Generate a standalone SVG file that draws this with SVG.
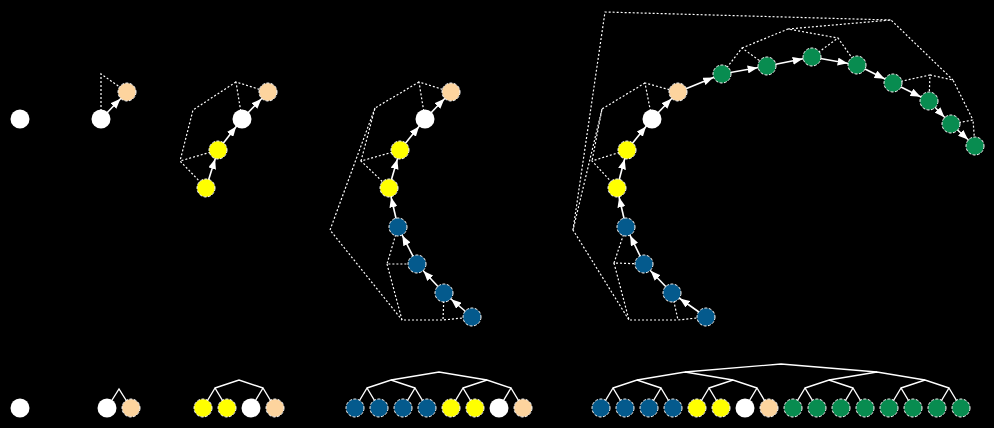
<svg xmlns="http://www.w3.org/2000/svg" width="994" height="428" viewBox="0 0 994 428">
<style>
.bg{fill:#000}
.n{stroke:#fff;stroke-width:1;stroke-dasharray:3,1.5}
.w{fill:#fff;stroke:none}
.pe{fill:#fdd49e}
.ye{fill:#ffff00}
.bl{fill:#045a8d}
.gr{fill:#088c50}
.ch{stroke:#fff;stroke-width:1.6;fill:none;marker-end:url(#ah)}
.dt{stroke:#fff;stroke-width:1.2;stroke-dasharray:2,2;fill:none}
.tr{stroke:#fff;stroke-width:1.4;fill:none}
</style>
<defs>
<marker id="ah" viewBox="0 0 10 8" refX="19.5" refY="4" markerWidth="10" markerHeight="8" markerUnits="userSpaceOnUse" orient="auto"><path d="M0,0 L10,4 L0,8 z" fill="#fff"/></marker>
</defs>
<rect class="bg" x="0" y="0" width="994" height="428"/>
<g id="connectors">
<polyline class="dt" points="101,119 101,74 127,92"/>
<line class="ch" x1="101" y1="119" x2="127" y2="92"/>
<polyline class="dt" points="242,119 236,82 268,92"/>
<polyline class="dt" points="218,150 180,161 206,188"/>
<polyline class="dt" points="236,82 193,110 180,161"/>
<line class="ch" x1="206" y1="188" x2="218" y2="150"/>
<line class="ch" x1="218" y1="150" x2="242" y2="119"/>
<line class="ch" x1="242" y1="119" x2="268" y2="92"/>
<polyline class="dt" points="425,119 419,82 451,92"/>
<polyline class="dt" points="400,150 361,161 389,188"/>
<polyline class="dt" points="419,82 375,108 361,161"/>
<polyline class="dt" points="398,227 387,264 417,264"/>
<polyline class="dt" points="444,293 443,320 472,317"/>
<polyline class="dt" points="387,264 402,320 443,320"/>
<polyline class="dt" points="375,108 330,230 402,320"/>
<line class="ch" x1="472" y1="317" x2="444" y2="293"/>
<line class="ch" x1="444" y1="293" x2="417" y2="264"/>
<line class="ch" x1="417" y1="264" x2="398" y2="227"/>
<line class="ch" x1="398" y1="227" x2="389" y2="188"/>
<line class="ch" x1="389" y1="188" x2="400" y2="150"/>
<line class="ch" x1="400" y1="150" x2="425" y2="119"/>
<line class="ch" x1="425" y1="119" x2="451" y2="92"/>
<polyline class="dt" points="652,119 645,83 678,92"/>
<polyline class="dt" points="627,150 592,161 617,188"/>
<polyline class="dt" points="645,83 602,109 592,161"/>
<polyline class="dt" points="626,227 614,263 644,264"/>
<polyline class="dt" points="672,293 678,320 706,317"/>
<polyline class="dt" points="614,263 629,320 678,320"/>
<polyline class="dt" points="602,109 573,230 629,320"/>
<polyline class="dt" points="722,74 742,48 767,66"/>
<polyline class="dt" points="812,57 838,38 857,65"/>
<polyline class="dt" points="742,48 788,29 838,38"/>
<polyline class="dt" points="893,83 930,75 929,101"/>
<polyline class="dt" points="951,124 973,120 975,146"/>
<polyline class="dt" points="930,75 953,80 973,120"/>
<polyline class="dt" points="788,29 891,20 953,80"/>
<polyline class="dt" points="573,230 605,12 891,20"/>
<line class="ch" x1="706" y1="317" x2="672" y2="293"/>
<line class="ch" x1="672" y1="293" x2="644" y2="264"/>
<line class="ch" x1="644" y1="264" x2="626" y2="227"/>
<line class="ch" x1="626" y1="227" x2="617" y2="188"/>
<line class="ch" x1="617" y1="188" x2="627" y2="150"/>
<line class="ch" x1="627" y1="150" x2="652" y2="119"/>
<line class="ch" x1="652" y1="119" x2="678" y2="92"/>
<line class="ch" x1="678" y1="92" x2="722" y2="74"/>
<line class="ch" x1="722" y1="74" x2="767" y2="66"/>
<line class="ch" x1="767" y1="66" x2="812" y2="57"/>
<line class="ch" x1="812" y1="57" x2="857" y2="65"/>
<line class="ch" x1="857" y1="65" x2="893" y2="83"/>
<line class="ch" x1="893" y1="83" x2="929" y2="101"/>
<line class="ch" x1="929" y1="101" x2="951" y2="124"/>
<line class="ch" x1="951" y1="124" x2="975" y2="146"/>
<polyline class="tr" points="107,408 119,389 131,408"/>
<polyline class="tr" points="203,408 215,388 227,408"/>
<polyline class="tr" points="251,408 263,388 275,408"/>
<polyline class="tr" points="215,388 239,380 263,388"/>
<polyline class="tr" points="355,408 367,388 379,408"/>
<polyline class="tr" points="403,408 415,388 427,408"/>
<polyline class="tr" points="451,408 463,388 475,408"/>
<polyline class="tr" points="499,408 511,388 523,408"/>
<polyline class="tr" points="367,388 391,380 415,388"/>
<polyline class="tr" points="463,388 487,380 511,388"/>
<polyline class="tr" points="391,380 439,372 487,380"/>
<polyline class="tr" points="601,408 613,388 625,408"/>
<polyline class="tr" points="649,408 661,388 673,408"/>
<polyline class="tr" points="697,408 709,388 721,408"/>
<polyline class="tr" points="745,408 757,388 769,408"/>
<polyline class="tr" points="793,408 805,388 817,408"/>
<polyline class="tr" points="841,408 853,388 865,408"/>
<polyline class="tr" points="889,408 901,388 913,408"/>
<polyline class="tr" points="937,408 949,388 961,408"/>
<polyline class="tr" points="613,388 637,380 661,388"/>
<polyline class="tr" points="709,388 733,380 757,388"/>
<polyline class="tr" points="805,388 829,380 853,388"/>
<polyline class="tr" points="901,388 925,380 949,388"/>
<polyline class="tr" points="637,380 685,372 733,380"/>
<polyline class="tr" points="829,380 877,372 925,380"/>
<polyline class="tr" points="685,372 781,364 877,372"/>
</g>
<g id="panel1">
<circle id="p1-w" class="w" cx="20" cy="119" r="9.5"/>
</g>
<g id="panel2">
<circle id="p2-w" class="w" cx="101" cy="119" r="9.5"/>
<circle id="p2-p" class="n pe" cx="127" cy="92" r="9"/>
</g>
<g id="panel3">
<circle id="p3-y2" class="n ye" cx="206" cy="188" r="9"/>
<circle id="p3-y1" class="n ye" cx="218" cy="150" r="9"/>
<circle id="p3-w" class="w" cx="242" cy="119" r="9.5"/>
<circle id="p3-p" class="n pe" cx="268" cy="92" r="9"/>
</g>
<g id="panel4">
<circle id="p4-b4" class="n bl" cx="472" cy="317" r="9"/>
<circle id="p4-b3" class="n bl" cx="444" cy="293" r="9"/>
<circle id="p4-b2" class="n bl" cx="417" cy="264" r="9"/>
<circle id="p4-b1" class="n bl" cx="398" cy="227" r="9"/>
<circle id="p4-y2" class="n ye" cx="389" cy="188" r="9"/>
<circle id="p4-y1" class="n ye" cx="400" cy="150" r="9"/>
<circle id="p4-w" class="w" cx="425" cy="119" r="9.5"/>
<circle id="p4-p" class="n pe" cx="451" cy="92" r="9"/>
</g>
<g id="panel5">
<circle id="p5-b4" class="n bl" cx="706" cy="317" r="9"/>
<circle id="p5-b3" class="n bl" cx="672" cy="293" r="9"/>
<circle id="p5-b2" class="n bl" cx="644" cy="264" r="9"/>
<circle id="p5-b1" class="n bl" cx="626" cy="227" r="9"/>
<circle id="p5-y2" class="n ye" cx="617" cy="188" r="9"/>
<circle id="p5-y1" class="n ye" cx="627" cy="150" r="9"/>
<circle id="p5-w" class="w" cx="652" cy="119" r="9.5"/>
<circle id="p5-p" class="n pe" cx="678" cy="92" r="9"/>
<circle id="p5-g1" class="n gr" cx="722" cy="74" r="9"/>
<circle id="p5-g2" class="n gr" cx="767" cy="66" r="9"/>
<circle id="p5-g3" class="n gr" cx="812" cy="57" r="9"/>
<circle id="p5-g4" class="n gr" cx="857" cy="65" r="9"/>
<circle id="p5-g5" class="n gr" cx="893" cy="83" r="9"/>
<circle id="p5-g6" class="n gr" cx="929" cy="101" r="9"/>
<circle id="p5-g7" class="n gr" cx="951" cy="124" r="9"/>
<circle id="p5-g8" class="n gr" cx="975" cy="146" r="9"/>
</g>
<g id="leaves">
<circle class="w" cx="20" cy="408" r="9.5"/>
<circle class="w" cx="107" cy="408" r="9.5"/>
<circle class="n pe" cx="131" cy="408" r="9"/>
<circle class="n ye" cx="203" cy="408" r="9"/>
<circle class="n ye" cx="227" cy="408" r="9"/>
<circle class="w" cx="251" cy="408" r="9.5"/>
<circle class="n pe" cx="275" cy="408" r="9"/>
<circle class="n bl" cx="355" cy="408" r="9"/>
<circle class="n bl" cx="379" cy="408" r="9"/>
<circle class="n bl" cx="403" cy="408" r="9"/>
<circle class="n bl" cx="427" cy="408" r="9"/>
<circle class="n ye" cx="451" cy="408" r="9"/>
<circle class="n ye" cx="475" cy="408" r="9"/>
<circle class="w" cx="499" cy="408" r="9.5"/>
<circle class="n pe" cx="523" cy="408" r="9"/>
<circle class="n bl" cx="601" cy="408" r="9"/>
<circle class="n bl" cx="625" cy="408" r="9"/>
<circle class="n bl" cx="649" cy="408" r="9"/>
<circle class="n bl" cx="673" cy="408" r="9"/>
<circle class="n ye" cx="697" cy="408" r="9"/>
<circle class="n ye" cx="721" cy="408" r="9"/>
<circle class="w" cx="745" cy="408" r="9.5"/>
<circle class="n pe" cx="769" cy="408" r="9"/>
<circle class="n gr" cx="793" cy="408" r="9"/>
<circle class="n gr" cx="817" cy="408" r="9"/>
<circle class="n gr" cx="841" cy="408" r="9"/>
<circle class="n gr" cx="865" cy="408" r="9"/>
<circle class="n gr" cx="889" cy="408" r="9"/>
<circle class="n gr" cx="913" cy="408" r="9"/>
<circle class="n gr" cx="937" cy="408" r="9"/>
<circle class="n gr" cx="961" cy="408" r="9"/>
</g>
</svg>
